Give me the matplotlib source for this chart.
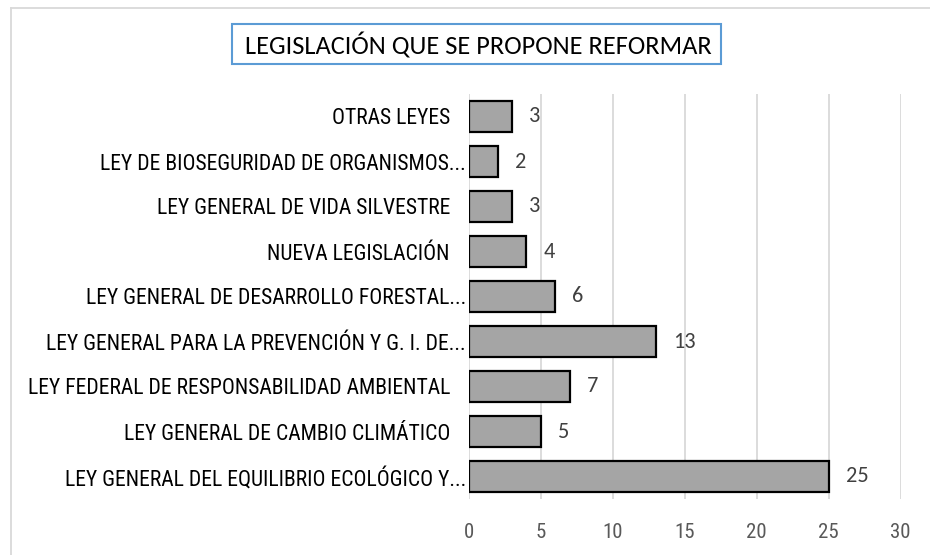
import matplotlib
matplotlib.use("Agg")
import matplotlib.pyplot as plt
from matplotlib.patches import Rectangle
from matplotlib.lines import Line2D

categories = [
    "LEY GENERAL DEL EQUILIBRIO ECOLÓGICO Y...",
    "LEY GENERAL DE CAMBIO CLIMÁTICO",
    "LEY FEDERAL DE RESPONSABILIDAD AMBIENTAL",
    "LEY GENERAL PARA LA PREVENCIÓN Y G. I. DE...",
    "LEY GENERAL DE DESARROLLO FORESTAL...",
    "NUEVA LEGISLACIÓN",
    "LEY GENERAL DE VIDA SILVESTRE",
    "LEY DE BIOSEGURIDAD DE ORGANISMOS...",
    "OTRAS LEYES",
]
values = [25, 5, 7, 13, 6, 4, 3, 2, 3]
xticks = [0, 5, 10, 15, 20, 25, 30]
title = "LEGISLACIÓN QUE SE PROPONE REFORMAR"

W, H = 930, 555
NARROW = ["Roboto Condensed", "DejaVu Sans"]
CAL = ["Carlito", "DejaVu Sans"]

fig = plt.figure(figsize=(W / 100, H / 100), dpi=100)
# outer chart frame (extends past right/bottom edges)
fig.add_artist(Line2D([11 / W, 11 / W], [0, 1 - 8 / H], transform=fig.transFigure,
                      color="#d9d9d9", linewidth=1.3))
fig.add_artist(Line2D([11 / W, 1], [1 - 8 / H, 1 - 8 / H], transform=fig.transFigure,
                      color="#d9d9d9", linewidth=1.3))

ax = fig.add_axes([468.7 / W, 1 - 499 / H, (900.7 - 468.7) / W, (499 - 94) / H])
y = list(range(len(categories)))
ax.barh(y, values, height=0.69, color="#a5a5a5", edgecolor="black", linewidth=1.6, zorder=3)
for yi, v in zip(y, values):
    ax.annotate(str(v), (v, yi), xytext=(12.3, 0), textcoords="offset points",
                va="center", ha="left", fontsize=16, family=CAL, color="#404040")
ax.set_xlim(0, 30)
ax.set_ylim(-0.5, 8.5)
ax.set_xticks(xticks)
ax.set_xticklabels([str(t) for t in xticks], family=NARROW, fontsize=15, color="#595959")
ax.set_yticks(y)
ax.set_yticklabels(categories, family=NARROW, fontsize=15.6, color="black")
ax.tick_params(axis="both", length=0)
ax.tick_params(axis="x", pad=17)
for lab, tick in zip(categories, ax.yaxis.get_major_ticks()):
    tick.set_pad(2.0 if lab.endswith("...") else 13.5)
ax.grid(axis="x", color="#d9d9d9", linewidth=1.3, zorder=0)
for s in ax.spines.values():
    s.set_visible(False)

fig.add_artist(Rectangle((232 / W, 1 - 64 / H), (721 - 232) / W, 40 / H, transform=fig.transFigure,
                         facecolor="white", edgecolor="#5b9bd5", linewidth=1.5))
fig.text(478 / W, 1 - 45 / H, title, ha="center", va="center", fontsize=19, family=CAL,
         color="black")

fig.savefig("out.png", dpi=100)
